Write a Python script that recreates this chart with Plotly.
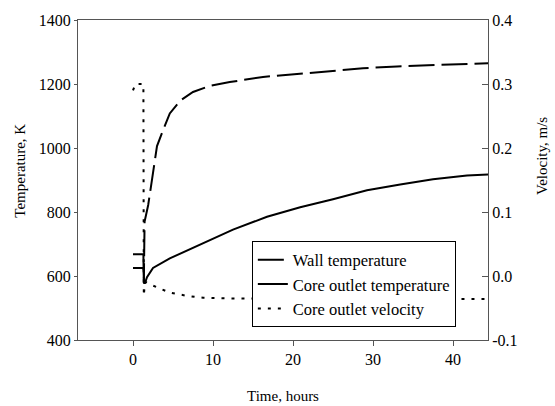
import plotly.graph_objects as go

# ---- data ----
wall_t = [0, 1.3, 1.35, 1.45, 1.9, 2.5, 3.0, 3.75, 4.6, 5.9, 7.5, 9.6, 12.1, 16.25,
          20.5, 24.6, 28.75, 33.0, 37.1, 41.25, 44.4]
wall_T = [668, 668, 578, 770, 822, 923, 1006, 1055, 1108, 1148, 1175, 1194, 1206, 1222,
          1231, 1240, 1249, 1255, 1258, 1262, 1265]

core_t = [0, 1.3, 1.4, 1.5, 1.75, 2.5, 4.6, 8.5, 12.5, 16.75, 20.9, 25.0, 29.25,
          33.4, 37.5, 41.75, 44.4]
core_T = [625, 625, 578, 578, 596, 625, 655, 700, 745, 785, 815, 840, 868,
          886, 902, 914, 917]

vel_t = [0, 0.3, 1.3, 1.35, 1.5, 2.5, 4.6, 6.75, 8.75, 12.0, 20.0, 30.0, 44.4]
vel_v = [0.29, 0.30, 0.30, -0.031, -0.009, -0.015, -0.026, -0.031, -0.034, -0.035,
         -0.036, -0.036, -0.036]

x_ticks = [0, 10, 20, 30, 40]
yl_ticks = [400, 600, 800, 1000, 1200, 1400]
yr_ticks = [-0.1, 0.0, 0.1, 0.2, 0.3, 0.4]
yr_labels = ["-0.1", "0.0", "0.1", "0.2", "0.3", "0.4"]

FONT = "Liberation Serif, Times New Roman, serif"
AX = "#555555"

fig = go.Figure()
fig.add_trace(go.Scatter(x=wall_t, y=wall_T, mode="lines", name="Wall temperature",
                         line=dict(color="black", width=2, dash="26px,7px")))
fig.add_trace(go.Scatter(x=core_t, y=core_T, mode="lines", name="Core outlet temperature",
                         line=dict(color="black", width=2)))
fig.add_trace(go.Scatter(x=vel_t, y=vel_v, mode="lines", name="Core outlet velocity",
                         yaxis="y2", line=dict(color="black", width=2, dash="3px,7px")))

fig.update_layout(
    width=555, height=406,
    margin=dict(l=78, r=67, t=15, b=66),
    paper_bgcolor="white", plot_bgcolor="white",
    font=dict(family=FONT, size=16, color="black"),
    showlegend=True,
    legend=dict(x=0.424, y=0.308, xanchor="left", yanchor="top",
                bordercolor="black", borderwidth=1, bgcolor="white",
                font=dict(family=FONT, size=16.5, color="black"),
                traceorder="normal", tracegroupgap=0),
    xaxis=dict(range=[-6.875, 44.375], tickvals=x_ticks, showgrid=False, zeroline=False,
               showline=True, linecolor=AX, linewidth=1, mirror=True,
               ticks="outside", ticklen=5, tickcolor=AX,
               tickfont=dict(family=FONT, size=16)),
    yaxis=dict(range=[400, 1400], tickvals=yl_ticks, showgrid=False, zeroline=False,
               showline=True, linecolor=AX, linewidth=1,
               ticks="outside", ticklen=3, tickcolor=AX,
               tickfont=dict(family=FONT, size=16)),
    yaxis2=dict(range=[-0.1, 0.4], tickvals=yr_ticks, ticktext=yr_labels,
                overlaying="y", side="right", showgrid=False, zeroline=False,
                showline=True, linecolor=AX, linewidth=1,
                ticks="inside", ticklen=6, tickcolor=AX,
                tickfont=dict(family=FONT, size=16)),
    annotations=[
        dict(text="Temperature, K", xref="paper", yref="paper", x=-0.1415, y=0.529,
             textangle=-90, showarrow=False, font=dict(family=FONT, size=15),
             xanchor="center", yanchor="middle"),
        dict(text="Velocity, m/s", xref="paper", yref="paper", x=1.1317, y=0.575,
             textangle=-90, showarrow=False, font=dict(family=FONT, size=15),
             xanchor="center", yanchor="middle"),
        dict(text="Time, hours", xref="paper", yref="paper", x=0.5, y=-0.175,
             showarrow=False, font=dict(family=FONT, size=15),
             xanchor="center", yanchor="middle"),
    ],
)

fig.write_html("out.html")
